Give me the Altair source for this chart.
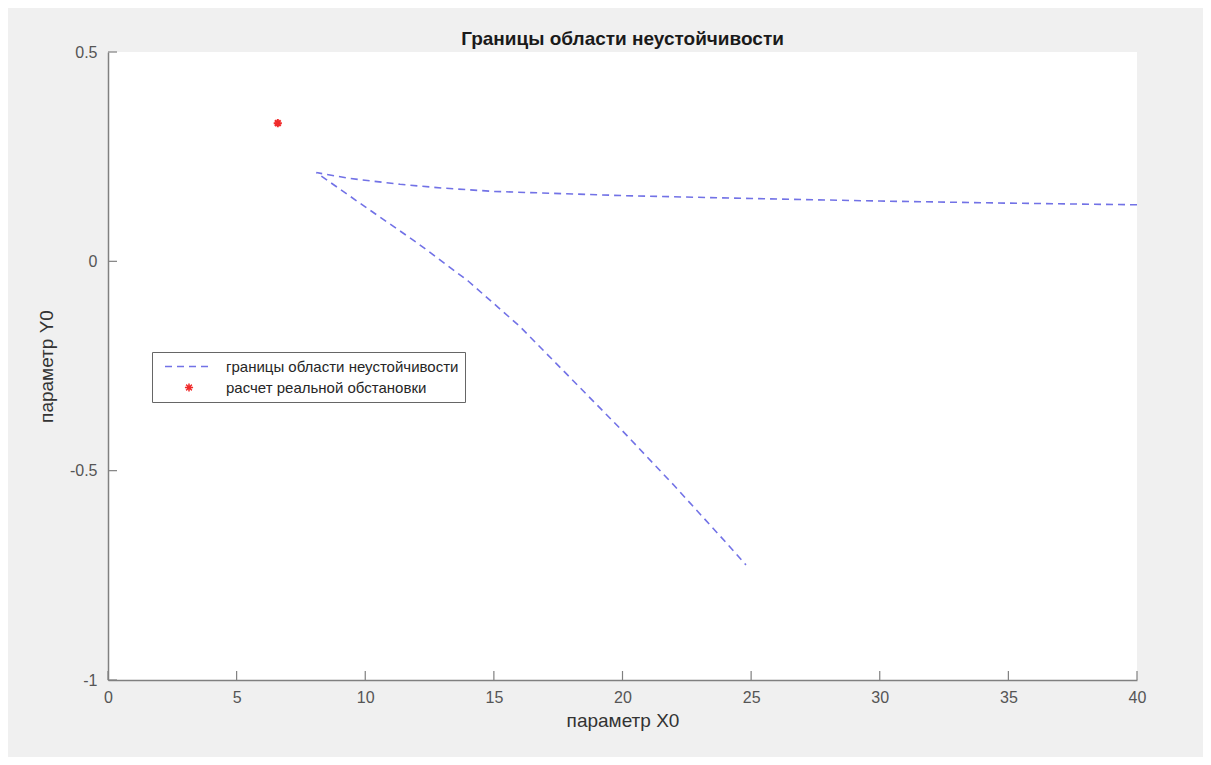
import altair as alt
import pandas as pd

# ---- text ----
title_text = "Границы области неустойчивости"
x_label = "параметр X0"
y_label = "параметр Y0"
series_line = "границы области неустойчивости"
series_point = "расчет реальной обстановки"

# ---- data ----
# boundary: upper branch from x=40 back to the vertex, then the lower branch
upper_x = [40, 35, 30, 25, 20, 15, 13, 11.35, 9.4, 8.1]
upper_y = [0.135, 0.139, 0.144, 0.150, 0.157, 0.167, 0.175, 0.184, 0.198, 0.212]
lower_x = [10, 12, 14, 16, 18, 20, 22, 24, 24.8]
lower_y = [0.13, 0.045, -0.047, -0.155, -0.28, -0.405, -0.535, -0.67, -0.725]

point_x = [6.6]
point_y = [0.33]

x_ticks = [0, 5, 10, 15, 20, 25, 30, 35, 40]
y_ticks = [-1, -0.5, 0, 0.5]

# ---- tables ----
bx = upper_x + lower_x
by = upper_y + lower_y
line_df = pd.DataFrame({"x": bx, "y": by, "order": list(range(len(bx))),
                        "series": [series_line] * len(bx)})
pt_df = pd.DataFrame({"x": point_x, "y": point_y, "series": [series_point] * len(point_x)})
xt_df = pd.DataFrame({"x": x_ticks})
yt_df = pd.DataFrame({"y": y_ticks})

FONT = "Liberation Sans"
W, H = 1029, 628
domain = [series_line, series_point]
blue = "#7272e6"
red = "#f02a2a"
axis_gray = "#808080"
asterisk = "M-0.17,0L0.17,0M0,-0.17L0,0.17M-0.12,-0.12L0.12,0.12M-0.12,0.12L0.12,-0.12"

xscale = alt.Scale(domain=[0, 40], nice=False, zero=False)
yscale = alt.Scale(domain=[-1, 0.5], nice=False, zero=False)

x_axis = alt.Axis(title=x_label, values=x_ticks, format="d", ticks=False, grid=False,
                  domainColor=axis_gray, domainWidth=1.5, labelPadding=9, labelFlush=False,
                  labelFont=FONT, labelFontSize=16, labelColor="#555555",
                  titleFont=FONT, titleFontSize=19, titleFontWeight="normal",
                  titleColor="#333333", titlePadding=6)
y_axis = alt.Axis(title=y_label, values=y_ticks, labelExpr="datum.value", ticks=False, grid=False,
                  domainColor=axis_gray, domainWidth=1.5, labelPadding=11, labelFlush=False,
                  labelFont=FONT, labelFontSize=16, labelColor="#555555",
                  titleFont=FONT, titleFontSize=19, titleFontWeight="normal",
                  titleColor="#333333", titlePadding=13)

legend = alt.Legend(title=None, orient="none", legendX=44, legendY=300,
                    fillColor="white", strokeColor="#666666", padding=6,
                    symbolOffset=6, labelOffset=12, rowPadding=4, clipHeight=17,
                    labelFont=FONT, labelFontSize=15, labelColor="#262626", labelLimit=500,
                    symbolSize=2304, symbolStrokeWidth=1.5, symbolType="stroke")

color = alt.Color("series:N", scale=alt.Scale(domain=domain, range=[blue, red]), legend=legend)
dash = alt.StrokeDash("series:N", scale=alt.Scale(domain=domain, range=[[7, 5], [1, 0]]), legend=legend)
shape = alt.Shape("series:N", scale=alt.Scale(domain=domain, range=["stroke", asterisk]), legend=legend)

X = alt.X("x:Q", scale=xscale, axis=x_axis)
Y = alt.Y("y:Q", scale=yscale, axis=y_axis)

line = alt.Chart(line_df).mark_line(strokeWidth=1.6, clip=True).encode(
    x=X, y=Y, order="order:Q", color=color, strokeDash=dash,
)

pts = alt.Chart(pt_df).mark_point(filled=False, strokeWidth=2, size=2304, opacity=1).encode(
    x=X, y=Y, color=color, shape=shape,
)

xticks = alt.Chart(xt_df).mark_rule(color=axis_gray, strokeWidth=1.2).encode(
    x=X, y=alt.value(H), y2=alt.value(H - 9),
)
yticks = alt.Chart(yt_df).mark_rule(color=axis_gray, strokeWidth=1.2).encode(
    y=Y, x=alt.value(0), x2=alt.value(9),
)

chart = alt.layer(line, pts, xticks, yticks).properties(
    width=W, height=H,
    title=alt.TitleParams(title_text, font=FONT, fontSize=19, fontWeight="bold",
                          color="#1a1a1a", anchor="middle", offset=4, dy=9),
    autosize=alt.AutoSizeParams(type="none"),
    padding={"left": 100, "top": 44, "right": 66, "bottom": 77},
).configure(background="#f0f0f0").configure_view(fill="white", strokeWidth=0)

chart.save("out.html", embed_options={"renderer": "svg", "actions": False})
